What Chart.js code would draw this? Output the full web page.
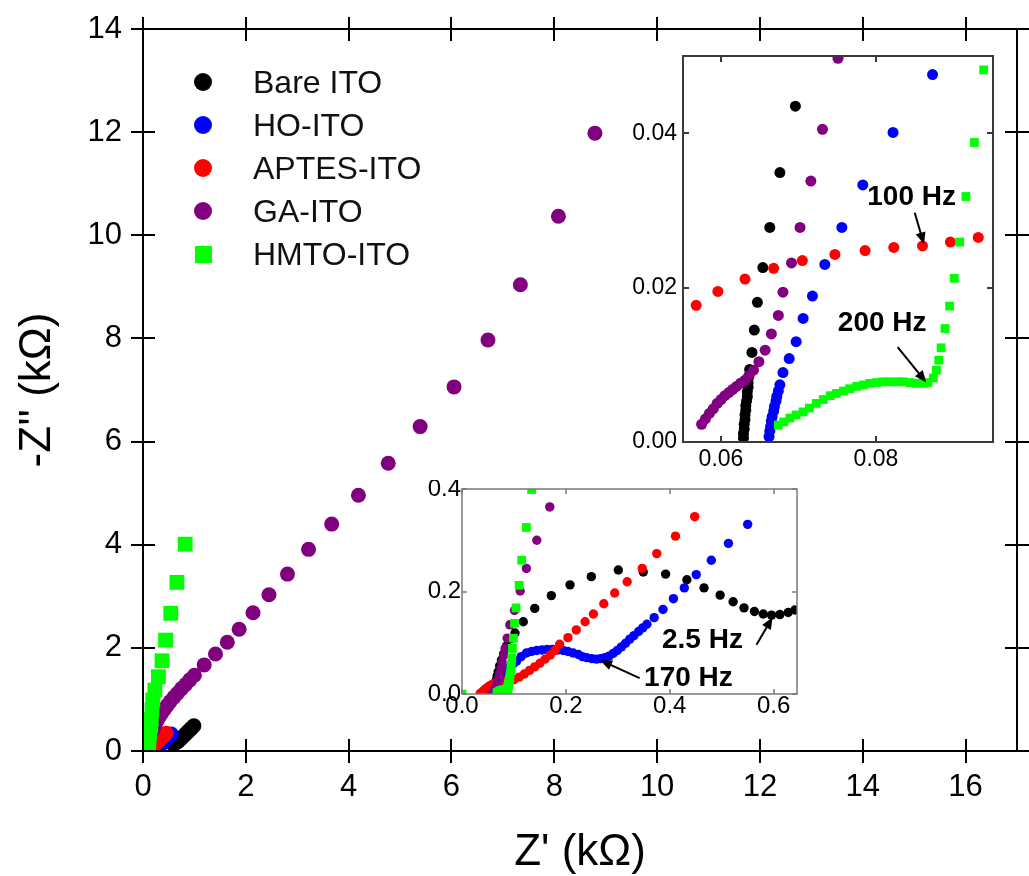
<!DOCTYPE html>
<html>
<head>
<meta charset="utf-8">
<title>Nyquist plot</title>
<script src="https://cdn.jsdelivr.net/npm/chart.js@4.4.0/dist/chart.umd.min.js"></script>
<style>
  html, body { margin: 0; padding: 0; background: #ffffff; }
  #wrap { position: relative; width: 1029px; height: 876px; overflow: hidden;
          font-family: Arial, "Liberation Sans", sans-serif; }
  canvas { position: absolute; }
  #main { left: 0; top: 0; }
  #insetLow { left: 400px; top: 480px; }
  #insetHigh { left: 620px; top: 45px; }
  .lg-row { position: absolute; left: 190px; height: 40px; display: flex; align-items: center;
            font-size: 32px; color: #111; }
  .lg-mark { display: inline-block; margin-right: 41px; }
</style>
</head>
<body>
<div id="wrap">
  <canvas id="main" width="1029" height="876"></canvas>
  <canvas id="insetLow" width="410" height="245"></canvas>
  <canvas id="insetHigh" width="395" height="440"></canvas>
  <div id="legend"></div>
</div>
<script>
const bareIto = [
  [0.0629, 0.0005], [0.0629, 0.0011], [0.0630, 0.0017], [0.0630, 0.0023], [0.0631, 0.0029],
  [0.0631, 0.0035], [0.0632, 0.0041], [0.0632, 0.0047], [0.0633, 0.0053], [0.0634, 0.0059],
  [0.0634, 0.0065], [0.0635, 0.0071], [0.0635, 0.0077], [0.0636, 0.0085], [0.0637, 0.0094],
  [0.0640, 0.0116], [0.0643, 0.0145], [0.0647, 0.0181], [0.0654, 0.0226], [0.0663, 0.0278],
  [0.0676, 0.0349], [0.0696, 0.0435],
  [0.0725, 0.055], [0.076, 0.066], [0.080, 0.078], [0.086, 0.094], [0.094, 0.108], [0.102, 0.119],
  [0.118, 0.141], [0.140, 0.167], [0.172, 0.192], [0.208, 0.213], [0.249, 0.229], [0.301, 0.242],
  [0.349, 0.238], [0.392, 0.234], [0.433, 0.223], [0.466, 0.207], [0.497, 0.193], [0.522, 0.180],
  [0.543, 0.168], [0.563, 0.161], [0.580, 0.156], [0.596, 0.154], [0.612, 0.155], [0.628, 0.159],
  [0.641, 0.164],
  [0.66, 0.172], [0.68, 0.187], [0.70, 0.205], [0.725, 0.228], [0.75, 0.252], [0.78, 0.281],
  [0.81, 0.31], [0.84, 0.34], [0.87, 0.37], [0.90, 0.40], [0.93, 0.43], [0.96, 0.46], [0.99, 0.49]
];

const hoIto = [
  [0.0662, 0.0007], [0.0663, 0.0014], [0.0664, 0.0020], [0.0665, 0.0027], [0.0666, 0.0033],
  [0.0668, 0.0040], [0.0669, 0.0046], [0.0671, 0.0053], [0.0672, 0.0059], [0.0674, 0.0066],
  [0.0676, 0.0074], [0.0680, 0.0090], [0.0688, 0.0108], [0.0697, 0.0130], [0.0706, 0.0160],
  [0.0718, 0.0189], [0.0734, 0.0230], [0.0756, 0.0278], [0.0783, 0.0333], [0.0822, 0.0401],
  [0.0873, 0.0476],
  [0.093, 0.054], [0.099, 0.059], [0.105, 0.064], [0.114, 0.073], [0.124, 0.080], [0.134, 0.083],
  [0.144, 0.085], [0.154, 0.086], [0.164, 0.087], [0.174, 0.087], [0.185, 0.086], [0.195, 0.085],
  [0.204, 0.083], [0.214, 0.080], [0.224, 0.077], [0.232, 0.073], [0.240, 0.071], [0.250, 0.069],
  [0.259, 0.068], [0.267, 0.069], [0.275, 0.071], [0.283, 0.074], [0.291, 0.079], [0.299, 0.085],
  [0.307, 0.092], [0.315, 0.099], [0.323, 0.107], [0.331, 0.114], [0.340, 0.122], [0.348, 0.129],
  [0.356, 0.136], [0.370, 0.149], [0.387, 0.165], [0.407, 0.186], [0.428, 0.207], [0.451, 0.233],
  [0.480, 0.261], [0.513, 0.294], [0.550, 0.331]
];

const aptesIto = [
  [0.035, 0.001], [0.040, 0.005], [0.044, 0.009], [0.048, 0.012], [0.052, 0.015],
  [0.0568, 0.0177], [0.0596, 0.0195], [0.0631, 0.0211], [0.0668, 0.0225], [0.0705, 0.0235],
  [0.0747, 0.0243], [0.0786, 0.0248], [0.0823, 0.0252], [0.0860, 0.0254], [0.0896, 0.0259],
  [0.0932, 0.0265],
  [0.100, 0.028], [0.110, 0.033], [0.120, 0.039], [0.130, 0.046], [0.140, 0.053], [0.150, 0.060],
  [0.160, 0.068], [0.170, 0.076], [0.179, 0.085], [0.188, 0.097], [0.204, 0.110], [0.220, 0.125],
  [0.237, 0.141], [0.253, 0.156], [0.273, 0.176], [0.294, 0.197], [0.318, 0.219], [0.347, 0.245],
  [0.375, 0.274], [0.411, 0.308], [0.448, 0.346]
];

const gaIto = [
  [0.0575, 0.0023], [0.0580, 0.0030], [0.0585, 0.0037], [0.0590, 0.0043], [0.0595, 0.0050],
  [0.0600, 0.0055], [0.0605, 0.0060], [0.0610, 0.0064], [0.0615, 0.0068], [0.0620, 0.0072],
  [0.0625, 0.0076], [0.0631, 0.0080], [0.0636, 0.0086], [0.0642, 0.0093], [0.0649, 0.0104],
  [0.0657, 0.0119], [0.0665, 0.0140], [0.0674, 0.0164], [0.0680, 0.0194], [0.0691, 0.0232],
  [0.0702, 0.0278], [0.0716, 0.0338], [0.0731, 0.0405], [0.0751, 0.0497],
  [0.077, 0.062], [0.080, 0.075], [0.083, 0.089], [0.087, 0.109], [0.092, 0.135], [0.101, 0.163],
  [0.112, 0.201], [0.124, 0.245], [0.144, 0.300], [0.169, 0.365],
  [0.20, 0.43], [0.23, 0.50], [0.27, 0.58], [0.31, 0.65], [0.36, 0.73], [0.41, 0.80], [0.47, 0.88],
  [0.53, 0.96], [0.60, 1.04], [0.67, 1.12], [0.75, 1.21], [0.83, 1.29], [0.91, 1.38], [1.00, 1.47],
  [1.19, 1.67], [1.41, 1.88], [1.64, 2.11], [1.87, 2.36], [2.14, 2.68], [2.45, 3.03], [2.81, 3.43],
  [3.22, 3.91], [3.67, 4.40], [4.19, 4.96], [4.77, 5.58], [5.39, 6.29], [6.05, 7.06], [6.71, 7.97],
  [7.34, 9.04], [8.08, 10.37], [8.79, 11.98]
];

const hmtoIto = [
  [0.0, 0.0],
  [0.0674, 0.0022], [0.0681, 0.0026], [0.0689, 0.0031], [0.0697, 0.0035], [0.0706, 0.0039],
  [0.0714, 0.0044], [0.0723, 0.0050], [0.0732, 0.0055], [0.0741, 0.0060], [0.0749, 0.0063],
  [0.0758, 0.0066], [0.0766, 0.0069], [0.0775, 0.0072], [0.0784, 0.0074], [0.0792, 0.0076],
  [0.0801, 0.0077], [0.0809, 0.0078], [0.0818, 0.0078], [0.0827, 0.0078], [0.0835, 0.0078],
  [0.0844, 0.0077], [0.0852, 0.0076], [0.0861, 0.0076], [0.0867, 0.0077], [0.0874, 0.0083],
  [0.0878, 0.0093], [0.0881, 0.0106], [0.0884, 0.0122], [0.0889, 0.0147], [0.0895, 0.0176],
  [0.0901, 0.0212], [0.0908, 0.0259], [0.0916, 0.0318], [0.0927, 0.0388], [0.0939, 0.0482],
  [0.095, 0.058], [0.096, 0.070], [0.097, 0.089], [0.099, 0.109], [0.101, 0.138], [0.104, 0.168],
  [0.110, 0.212], [0.115, 0.261], [0.124, 0.325], [0.134, 0.399],
  [0.15, 0.50], [0.16, 0.62], [0.175, 0.80], [0.19, 0.99], [0.23, 1.18], [0.30, 1.44], [0.37, 1.75],
  [0.44, 2.15], [0.54, 2.67], [0.66, 3.27], [0.82, 4.01]
];

const seriesNames = ['Bare ITO', 'HO-ITO', 'APTES-ITO', 'GA-ITO', 'HMTO-ITO'];
const seriesData = [bareIto, hoIto, aptesIto, gaIto, hmtoIto];
const seriesColors = ['#000000', '#0000ff', '#ff0000', '#800080', '#00ff00'];
const seriesShapes = ['circle', 'circle', 'circle', 'circle', 'rect'];

// Tick values
const mainXTicks = [0, 2, 4, 6, 8, 10, 12, 14, 16];
const mainYTicks = [0, 2, 4, 6, 8, 10, 12, 14];
const lowXTicks = [0, 0.2, 0.4, 0.6];
const lowYTicks = [0, 0.2, 0.4];
const highXTicks = [0.06, 0.08];
const highYTicks = [0, 0.02, 0.04];

// Frequency call-outs (data coordinates of the inset they sit in)
const lowNotes = [
  { text: '2.5 Hz', at: [0.463, 0.105], from: [0.567, 0.096], to: [0.598, 0.150] },
  { text: '170 Hz', at: [0.436, 0.031], from: [0.342, 0.031], to: [0.266, 0.066] }
];
const highNotes = [
  { text: '100 Hz', at: [0.0846, 0.0317], from: [0.0850, 0.0297], to: [0.0862, 0.0256] },
  { text: '200 Hz', at: [0.0808, 0.0154], from: [0.0828, 0.0123], to: [0.0865, 0.0077] }
];

const FONT = 'Arial, "Liberation Sans", sans-serif';

// Box round the plot area with tick marks on all four sides
const framePlugin = {
  id: 'frame',
  beforeDraw(chart, args, o) {
    const a = chart.chartArea;
    if (o.fill) {
      chart.ctx.save();
      chart.ctx.fillStyle = o.fill;
      chart.ctx.fillRect(a.left, a.top, a.right - a.left, a.bottom - a.top);
      chart.ctx.restore();
    }
  },
  afterDraw(chart, args, o) {
    const { ctx, chartArea: a, scales: { x, y } } = chart;
    ctx.save();
    ctx.strokeStyle = o.color;
    ctx.lineWidth = o.width;
    ctx.strokeRect(a.left, a.top, a.right - a.left, a.bottom - a.top);
    ctx.beginPath();
    x.ticks.forEach(t => {
      const px = Math.round(x.getPixelForValue(t.value));
      ctx.moveTo(px, a.bottom + o.tickOut); ctx.lineTo(px, a.bottom - o.tickIn);
      ctx.moveTo(px, a.top - o.tickOut); ctx.lineTo(px, a.top + o.tickIn);
    });
    y.ticks.forEach(t => {
      const py = Math.round(y.getPixelForValue(t.value));
      ctx.moveTo(a.left - o.tickOut, py); ctx.lineTo(a.left + o.tickIn, py);
      ctx.moveTo(a.right + o.tickOut, py); ctx.lineTo(a.right - o.tickIn, py);
    });
    ctx.stroke();
    ctx.restore();
  }
};

// Text labels with arrows
const notesPlugin = {
  id: 'notes',
  afterDraw(chart, args, o) {
    if (!o.items) return;
    const { ctx, scales: { x, y } } = chart;
    ctx.save();
    ctx.fillStyle = '#000';
    ctx.strokeStyle = '#000';
    ctx.lineWidth = 2;
    ctx.font = 'bold ' + o.size + 'px ' + FONT;
    ctx.textAlign = 'center';
    ctx.textBaseline = 'middle';
    o.items.forEach(n => {
      ctx.fillText(n.text, x.getPixelForValue(n.at[0]), y.getPixelForValue(n.at[1]));
      const x0 = x.getPixelForValue(n.from[0]), y0 = y.getPixelForValue(n.from[1]);
      const x1 = x.getPixelForValue(n.to[0]), y1 = y.getPixelForValue(n.to[1]);
      const ang = Math.atan2(y1 - y0, x1 - x0);
      const head = 12, half = 5;
      ctx.beginPath();
      ctx.moveTo(x0, y0);
      ctx.lineTo(x1 - head * 0.8 * Math.cos(ang), y1 - head * 0.8 * Math.sin(ang));
      ctx.stroke();
      ctx.beginPath();
      ctx.moveTo(x1, y1);
      ctx.lineTo(x1 - head * Math.cos(ang) + half * Math.sin(ang), y1 - head * Math.sin(ang) - half * Math.cos(ang));
      ctx.lineTo(x1 - head * Math.cos(ang) - half * Math.sin(ang), y1 - head * Math.sin(ang) + half * Math.cos(ang));
      ctx.closePath();
      ctx.fill();
    });
    ctx.restore();
  }
};

function fixedSize(prop, value) {
  return function (scale) {
    scale[prop] = value;
    scale.paddingTop = 0; scale.paddingBottom = 0;
    scale.paddingLeft = 0; scale.paddingRight = 0;
  };
}

function useTicks(values) {
  return function (scale) {
    scale.ticks = values.map(v => ({ value: v }));
  };
}

function buildDatasets(radius, rectRadius) {
  return seriesNames.map((name, i) => ({
    label: name,
    data: seriesData[i].map(p => ({ x: p[0], y: p[1] })),
    pointStyle: seriesShapes[i],
    pointRadius: seriesShapes[i] === 'rect' ? rectRadius : radius,
    pointHoverRadius: seriesShapes[i] === 'rect' ? rectRadius : radius,
    backgroundColor: seriesColors[i],
    borderColor: seriesColors[i],
    pointBorderWidth: 0,
    showLine: false,
    order: seriesNames.length - 1 - i
  }));
}

/**
 * Scatter chart with fixed plot-area geometry
 * cfg: ranges, ticks, axis widths, label fonts, frame style
 */
function createPlot(id, cfg) {
  return new Chart(document.getElementById(id), {
    type: 'scatter',
    data: { datasets: buildDatasets(cfg.radius, cfg.rectRadius) },
    plugins: [framePlugin, notesPlugin],
    options: {
      responsive: false,
      animation: false,
      devicePixelRatio: 1,
      events: [],
      layout: { padding: { top: cfg.padTop, right: cfg.padRight, left: 0, bottom: 0 } },
      plugins: {
        legend: { display: false },
        tooltip: { enabled: false },
        frame: cfg.frame,
        notes: { items: cfg.notes, size: cfg.noteSize }
      },
      scales: {
        x: {
          type: 'linear', min: cfg.xMin, max: cfg.xMax,
          afterBuildTicks: useTicks(cfg.xTicks),
          afterFit: fixedSize('height', cfg.xHeight),
          grid: { display: false, drawTicks: false },
          border: { display: false },
          ticks: {
            color: '#000', padding: cfg.xPad, maxRotation: 0, autoSkip: false,
            font: { family: FONT, size: cfg.tickSize, lineHeight: 1 },
            callback: v => v.toFixed(cfg.decimals)
          },
          title: cfg.xTitle ? {
            display: true, text: cfg.xTitle, color: '#000',
            font: { family: FONT, size: 44, lineHeight: 1 }, padding: { top: 0, bottom: 1 }
          } : { display: false }
        },
        y: {
          type: 'linear', min: cfg.yMin, max: cfg.yMax,
          afterBuildTicks: useTicks(cfg.yTicks),
          afterFit: fixedSize('width', cfg.yWidth),
          grid: { display: false, drawTicks: false },
          border: { display: false },
          ticks: {
            color: '#000', padding: cfg.yPad, autoSkip: false,
            font: { family: FONT, size: cfg.tickSize, lineHeight: 1 },
            callback: v => v.toFixed(cfg.decimals)
          },
          title: cfg.yTitle ? {
            display: true, text: cfg.yTitle, color: '#000',
            font: { family: FONT, size: 44, lineHeight: 1 }, padding: { top: 16, bottom: 0 }
          } : { display: false }
        }
      }
    }
  });
}

createPlot('main', {
  xMin: 0, xMax: 17, yMin: 0, yMax: 14,
  xTicks: mainXTicks, yTicks: mainYTicks, decimals: 0,
  yWidth: 143, xHeight: 125, padTop: 29, padRight: 12,
  tickSize: 31, xPad: 21, yPad: 21,
  radius: 7.5, rectRadius: 10.5,
  xTitle: "Z' (k\u03A9)", yTitle: "-Z'' (k\u03A9)",
  frame: { color: '#000', width: 2, tickIn: 12, tickOut: 12 },
  notes: null, noteSize: 28
});

createPlot('insetLow', {
  xMin: 0, xMax: 0.645, yMin: 0, yMax: 0.4,
  xTicks: lowXTicks, yTicks: lowYTicks, decimals: 1,
  yWidth: 62, xHeight: 31, padTop: 9, padRight: 13,
  tickSize: 24, xPad: 0, yPad: 1,
  radius: 4.7, rectRadius: 6.2,
  frame: { color: '#7a7a7a', width: 1.5, tickIn: 5, tickOut: 0, fill: '#ffffff' },
  notes: lowNotes, noteSize: 28
});

createPlot('insetHigh', {
  xMin: 0.0551, xMax: 0.0951, yMin: 0, yMax: 0.05,
  xTicks: highXTicks, yTicks: highYTicks, decimals: 2,
  yWidth: 63, xHeight: 43, padTop: 11, padRight: 22,
  tickSize: 23, xPad: 6, yPad: 6,
  radius: 5.5, rectRadius: 6.2,
  frame: { color: '#3a3a3a', width: 2, tickIn: 6, tickOut: 0, fill: '#ffffff' },
  notes: highNotes, noteSize: 28
});

// Legend inside the main plot area
const legendTops = [62, 105, 148, 191, 234];
const legend = document.getElementById('legend');
legend.innerHTML = seriesNames.map((name, i) => {
  const isRect = seriesShapes[i] === 'rect';
  const size = isRect ? 17 : 18;
  return `<div class="lg-row" style="top:${legendTops[i]}px">
      <span class="lg-mark" style="width:${size}px;height:${size}px;background:${seriesColors[i]};border-radius:${isRect ? 0 : 50}%;margin-left:${isRect ? 4.5 : 4}px;${isRect ? 'margin-right:41.5px' : ''}"></span>
      <span>${name}</span>
    </div>`;
}).join('');
</script>
</body>
</html>
